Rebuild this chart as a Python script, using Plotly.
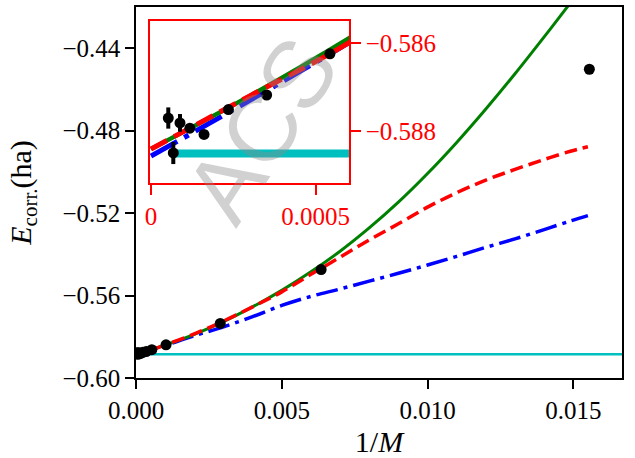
import plotly.graph_objects as go

# ---- data ----
pts_x = [0.0000525, 0.0000677, 0.0000880, 0.000118, 0.000161, 0.000235, 0.000351, 0.000543,
         0.00103, 0.00289, 0.00635, 0.01555]
pts_y = [-0.58770, -0.58849, -0.58781, -0.58793, -0.58807, -0.58751, -0.58718, -0.58625,
         -0.5839, -0.5735, -0.5474, -0.4502]
pts_err = [0.00024, 0.00025, 0.00020, 0.00006, 0.00005, 0.00004, 0.00004, 0.00004,
           0.0001, 0.0001, 0.0001, 0.0001]

fit_x = [0.0, 0.0003, 0.0006, 0.001, 0.002, 0.003, 0.004, 0.005, 0.006, 0.007, 0.008,
         0.009, 0.010, 0.011, 0.012, 0.013, 0.014, 0.0149, 0.0155]
fit_green = [-0.5884, -0.5872, -0.5859, -0.5840, -0.5788, -0.5726, -0.5655, -0.5575, -0.5485,
             -0.5385, -0.5272, -0.5147, -0.5008, -0.4857, -0.4695, -0.4524, -0.4345, -0.4180, -0.4070]
fit_red = [-0.5884, -0.5872, -0.5860, -0.5840, -0.5786, -0.5724, -0.5655, -0.5582, -0.5497,
           -0.5414, -0.5330, -0.5252, -0.5171, -0.5101, -0.5040, -0.4988, -0.4940, -0.4900, -0.4878]
fit_blue = [-0.58856, -0.5873, -0.5860, -0.5842, -0.5795, -0.5752, -0.5702, -0.5648, -0.5604,
            -0.5568, -0.5530, -0.5492, -0.5452, -0.5410, -0.5366, -0.5325, -0.5280, -0.5238, -0.5212]

limit_x = [0.0000677, 0.01667]
limit_y = [-0.5885, -0.5885]

main_xticks = [0.0, 0.005, 0.010, 0.015]
main_yticks = [-0.60, -0.56, -0.52, -0.48, -0.44]
inset_xticks = [0.0, 0.0005]
inset_xticktext = ["0", "0.0005"]
inset_yticks = [-0.588, -0.586]

FONT = "Liberation Serif"
FS = 25

fig = go.Figure()

def add_set(xa, ya, lw, dash_r, dash_b, cyan_w, msize, ebw):
    fig.add_trace(go.Scatter(x=limit_x, y=limit_y, mode="lines", xaxis=xa, yaxis=ya,
                             line=dict(color="#00BFBF", width=cyan_w), showlegend=False, hoverinfo="skip"))
    fig.add_trace(go.Scatter(x=fit_x, y=fit_blue, mode="lines", xaxis=xa, yaxis=ya,
                             line=dict(color="#0000FF", width=lw, dash=dash_b, shape="spline"),
                             showlegend=False))
    fig.add_trace(go.Scatter(x=fit_x, y=fit_green, mode="lines", xaxis=xa, yaxis=ya,
                             line=dict(color="#008000", width=lw - 0.5, shape="spline"),
                             showlegend=False))
    fig.add_trace(go.Scatter(x=fit_x, y=fit_red, mode="lines", xaxis=xa, yaxis=ya,
                             line=dict(color="#FF0000", width=lw, dash=dash_r, shape="spline"),
                             showlegend=False))
    fig.add_trace(go.Scatter(x=pts_x, y=pts_y, mode="markers", xaxis=xa, yaxis=ya,
                             marker=dict(color="black", size=msize),
                             error_y=dict(type="data", array=pts_err, color="black",
                                          thickness=ebw, width=0),
                             showlegend=False, cliponaxis=True))

add_set("x", "y", 3.5, "13px,6px", "22px,6px,4px,6px", 2.5, 11, 2)
add_set("x2", "y2", 5, "18px,8px", "30px,8px,5px,8px", 8, 11, 4)

fig.update_layout(
    width=635, height=458,
    margin=dict(l=136, r=13, t=5, b=80),
    paper_bgcolor="white", plot_bgcolor="white",
    font=dict(family=FONT, size=FS, color="black"),
    xaxis=dict(domain=[0, 1], range=[0, 0.01667], tickvals=main_xticks, tickformat=".3f",
               showline=True, linecolor="black", linewidth=1.5, mirror=True,
               ticks="outside", ticklen=9, tickwidth=1.5, tickcolor="black",
               showgrid=False, zeroline=False,
               title=dict(text="1/<i>M</i>", standoff=8)),
    yaxis=dict(domain=[0, 1], range=[-0.60, -0.42], tickvals=main_yticks, tickformat=".2f",
               showline=True, linecolor="black", linewidth=1.5, mirror=True,
               ticks="outside", ticklen=9, tickwidth=1.5, tickcolor="black",
               showgrid=False, zeroline=False,
               title=dict(text="<i>E</i><sub>corr.</sub>(ha)", standoff=22)),
    xaxis2=dict(domain=[0.0288, 0.4383], range=[-0.000003, 0.000601], anchor="y2",
                tickvals=inset_xticks, ticktext=inset_xticktext,
                showline=True, linecolor="#FF0000", linewidth=1.5, mirror=True,
                ticks="outside", ticklen=10, tickwidth=1.5, tickcolor="#FF0000",
                tickfont=dict(color="#FF0000", size=FS, family=FONT),
                showgrid=False, zeroline=False),
    yaxis2=dict(domain=[0.5255, 0.9625], range=[-0.589169, -0.585506], anchor="x2", side="right",
                tickvals=inset_yticks, tickformat=".3f",
                showline=True, linecolor="#FF0000", linewidth=1.5, mirror=True,
                ticks="outside", ticklen=10, tickwidth=1.5, tickcolor="#FF0000",
                tickfont=dict(color="#FF0000", size=FS, family=FONT),
                showgrid=False, zeroline=False),
    annotations=[dict(text="ACS", xref="paper", yref="paper", x=0.259, y=0.67,
                      xanchor="center", yanchor="middle", showarrow=False, textangle=-57,
                      font=dict(family="Liberation Sans", size=95, color="rgba(140,140,140,0.40)"))],
)

fig.write_html("out.html")
